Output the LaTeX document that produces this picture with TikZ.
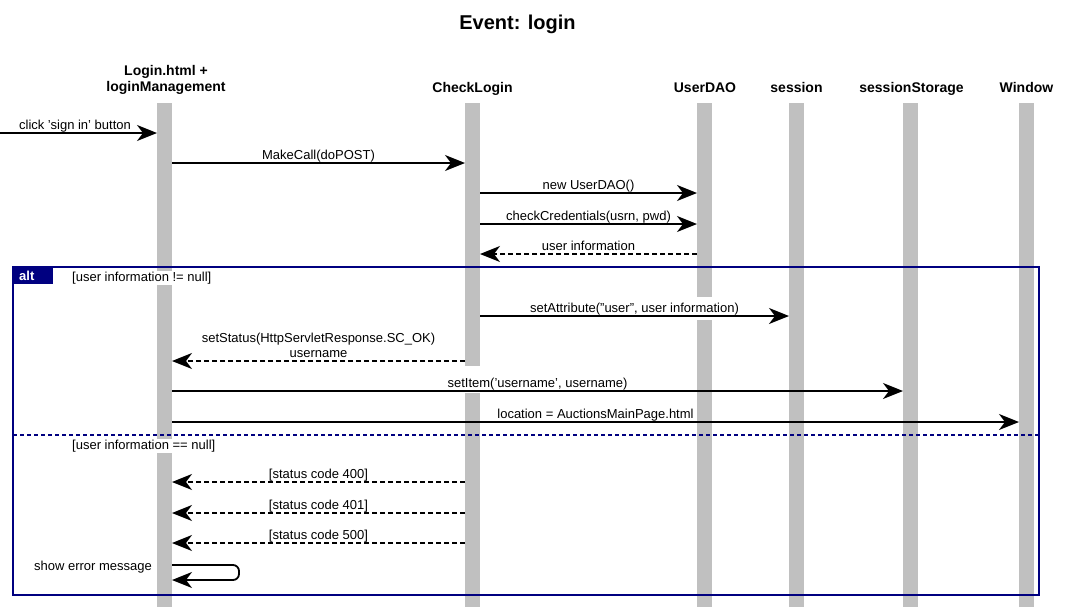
\documentclass[tikz,border=0pt]{standalone}
\usepackage{fontspec}
\setmainfont{Liberation Sans}
\usetikzlibrary{arrows.meta}
\definecolor{navy}{RGB}{0,0,128}
\definecolor{bargray}{RGB}{192,192,192}
\begin{document}
\begin{tikzpicture}[x=1pt,y=-1pt,
  lbl/.style={font=\fontsize{13}{15}\selectfont, fill=white, inner sep=1pt, anchor=base},
  hdr/.style={font=\fontsize{14}{16.5}\selectfont\bfseries, align=center, inner sep=0pt, anchor=base},
  msg/.style={line width=1.8pt, -{Stealth[length=20pt,width=16pt,inset=6pt]}},
  ret/.style={msg, dash pattern=on 5pt off 3pt},
  bar/.style={fill=bargray, draw=none},
  frm/.style={draw=navy, line width=2.6pt}]
\useasboundingbox (0,0) rectangle (1080,614);

% title and headers
\node[font=\fontsize{20}{22}\selectfont\bfseries, anchor=base, inner sep=0pt] (title) at (517.5,29) {Event: login};
\node[hdr, anchor=center] (hLogin) at (166,80) {Login.html +\\loginManagement};
\node[hdr] (hCheck) at (472.5,92) {CheckLogin};
\node[hdr] (hDAO) at (705,92) {UserDAO};
\node[hdr] (hSess) at (796.5,92) {session};
\node[hdr] (hStore) at (911.5,92) {sessionStorage};
\node[hdr] (hWin) at (1026.5,92) {Window};

% lifeline bars
\fill[bar] (157,103) rectangle (172,607);
\fill[bar] (465,103) rectangle (480,366);
\fill[bar] (465,393) rectangle (480,607);
\fill[bar] (697,103) rectangle (712,297);
\fill[bar] (697,320) rectangle (712,607);
\fill[bar] (789,103) rectangle (804,607);
\fill[bar] (903,103) rectangle (918,607);
\fill[bar] (1019,103) rectangle (1034,607);

% alt frame
\draw[frm] (13,267) rectangle (1039,595);
\draw[navy, line width=2.6pt, dash pattern=on 4pt off 3pt] (13,435) -- (1039,435);
\node[fill=navy, text=white, font=\fontsize{13}{15}\selectfont\bfseries, anchor=north west,
      minimum width=40pt, minimum height=17pt, inner xsep=6pt, inner ysep=0pt, text width=28pt] (alt) at (13,267) {alt};

% labels
\node[lbl] (l1) at (75,129.7) {click 'sign in' button};
\node[lbl] (l2) at (318.5,159.7) {MakeCall(doPOST)};
\node[lbl] (l3) at (588.5,189.7) {new UserDAO()};
\node[lbl] (l4) at (588.5,220.7) {checkCredentials(usrn, pwd)};
\node[lbl] (l5) at (588.5,250.7) {user information};
\node[lbl, anchor=base west] (g1) at (71,281.5) {[user information != null]};
\node[lbl] (l6) at (634.5,312.7) {setAttribute("user", user information)};
\node[lbl] (l7a) at (318.5,342.5) {setStatus(HttpServletResponse.SC\_OK)};
\node[lbl] (l7) at (318.5,357.7) {username};
\node[lbl] (l8) at (537.5,387.7) {setItem('username', username)};
\node[lbl] (l9) at (595.5,418.7) {location = AuctionsMainPage.html};
\node[lbl, anchor=base west] (g2) at (71,449.5) {[user information == null]};
\node[lbl] (l10) at (318.5,478.7) {[status code 400]};
\node[lbl] (l11) at (318.5,509.7) {[status code 401]};
\node[lbl] (l12) at (318.5,539.7) {[status code 500]};
\node[lbl] (l13) at (93,570) {show error message};

% message end points
\coordinate (m1a) at (0,133);    \coordinate (m1b) at (157,133);
\coordinate (m2a) at (172,163);  \coordinate (m2b) at (465,163);
\coordinate (m3a) at (480,193);  \coordinate (m3b) at (697,193);
\coordinate (m4a) at (480,224);  \coordinate (m4b) at (697,224);
\coordinate (m5a) at (697,254);  \coordinate (m5b) at (480,254);
\coordinate (m6a) at (480,316);  \coordinate (m6b) at (789,316);
\coordinate (m7a) at (465,361);  \coordinate (m7b) at (172,361);
\coordinate (m8a) at (172,391);  \coordinate (m8b) at (903,391);
\coordinate (m9a) at (172,422);  \coordinate (m9b) at (1019,422);
\coordinate (m10a) at (465,482); \coordinate (m10b) at (172,482);
\coordinate (m11a) at (465,513); \coordinate (m11b) at (172,513);
\coordinate (m12a) at (465,543); \coordinate (m12b) at (172,543);
\coordinate (m13a) at (172,565); \coordinate (m13c) at (239,565);
\coordinate (m13d) at (239,580); \coordinate (m13b) at (172,580);

% messages
\draw[msg] (m1a) -- (m1b);
\draw[msg] (m2a) -- (m2b);
\draw[msg] (m3a) -- (m3b);
\draw[msg] (m4a) -- (m4b);
\draw[ret] (m5a) -- (m5b);
\draw[msg] (m6a) -- (m6b);
\draw[ret] (m7a) -- (m7b);
\draw[msg] (m8a) -- (m8b);
\draw[msg] (m9a) -- (m9b);
\draw[ret] (m10a) -- (m10b);
\draw[ret] (m11a) -- (m11b);
\draw[ret] (m12a) -- (m12b);
\draw[msg, rounded corners=6pt] (m13a) -- (m13c) -- (m13d) -- (m13b);
\end{tikzpicture}
\end{document}
